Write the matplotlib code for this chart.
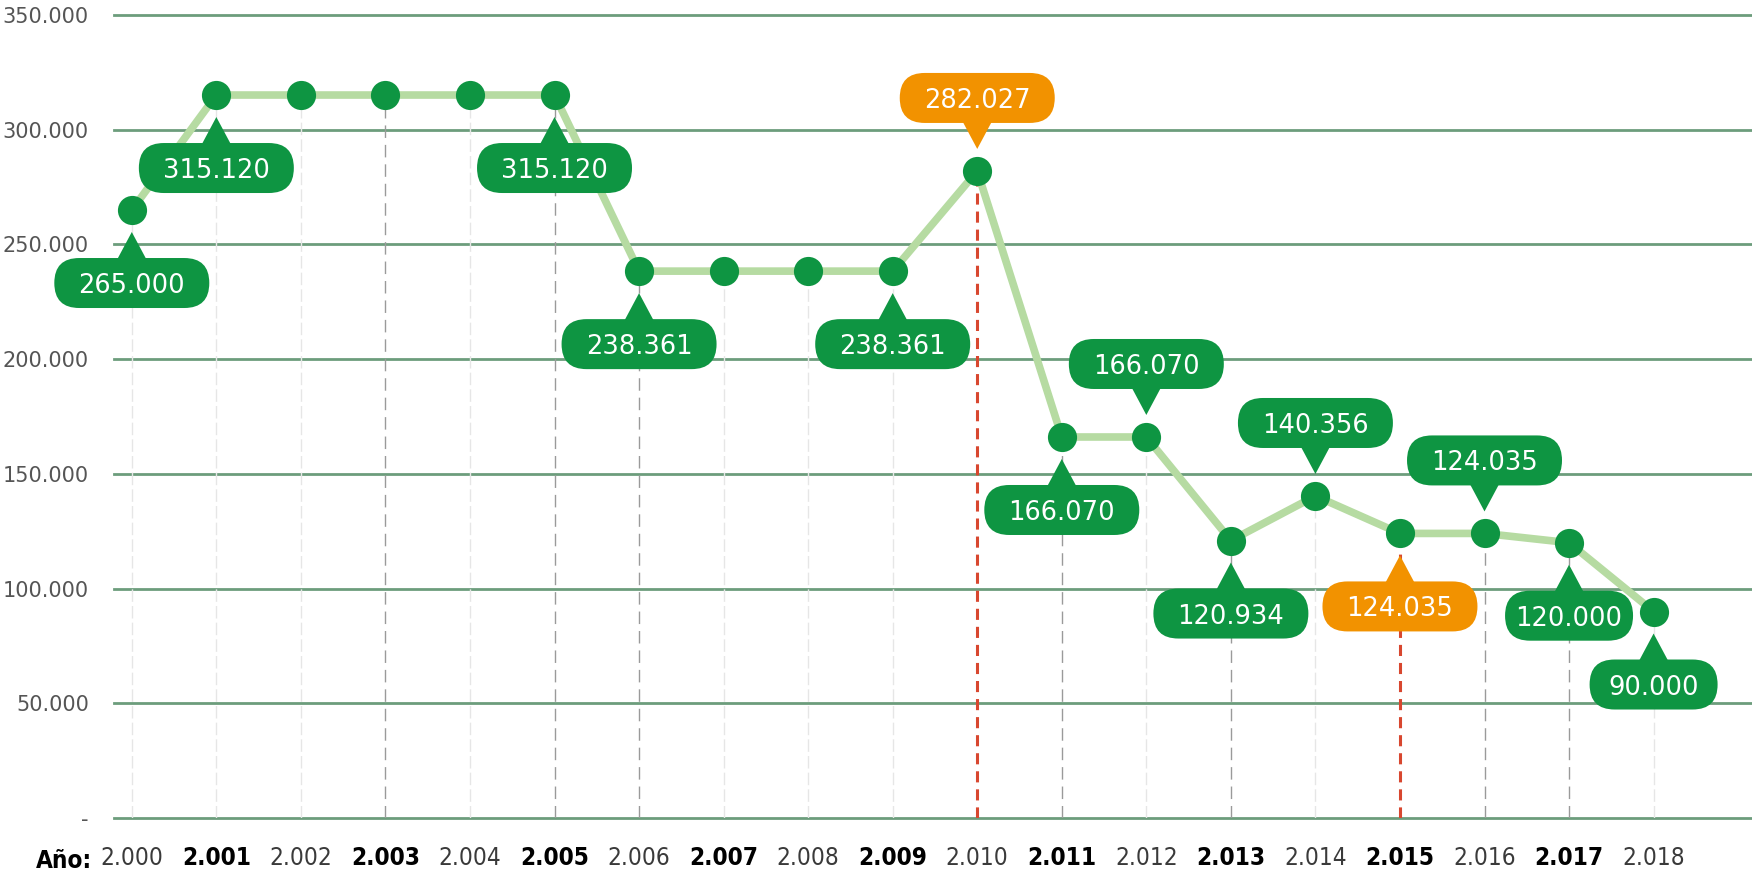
import matplotlib
matplotlib.use("Agg")
import matplotlib.pyplot as plt
import matplotlib.transforms as mtransforms
from matplotlib.patches import FancyBboxPatch, Polygon

plt.rcParams["lines.scale_dashes"] = False

# data
years = [2000, 2001, 2002, 2003, 2004, 2005, 2006, 2007, 2008, 2009,
         2010, 2011, 2012, 2013, 2014, 2015, 2016, 2017, 2018]
values = [265000, 315120, 315120, 315120, 315120, 315120, 238361, 238361, 238361, 238361,
          282027, 166070, 166070, 120934, 140356, 124035, 124035, 120000, 90000]
# where the callout sits for each point (None = no callout)
label_side = ["below", "below", None, None, None, "below", "below", None, None, "below",
              "above", "below", "above", "below", "above", "below", "above", "below", "below"]
highlight_years = [2010, 2015]
dark_guide_years = [2003, 2005, 2006, 2011, 2013, 2016, 2017]
narrow_box_years = [2017, 2018]
y_ticks = [0, 50000, 100000, 150000, 200000, 250000, 300000, 350000]

GREEN = "#0e9542"
ORANGE = "#f29200"
LINE = "#b6dba2"
GRID = "#6c9d7c"
RED = "#d8472f"

W, H = 1752, 872
fig = plt.figure(figsize=(W / 100, H / 100), dpi=100)
left, right, top, bottom = 114, 1752, 15, 818
ax = fig.add_axes([left / W, (H - bottom) / H, (right - left) / W, (bottom - top) / H])

step = (1653.6 - 131.8) / 18
ax.set_xlim(2000 - (131.8 - left) / step, 2018 + (right - 1653.6) / step)
ax.set_ylim(0, 350000)
for s in ax.spines.values():
    s.set_visible(False)

# horizontal grid
for t in y_ticks:
    ax.axhline(t, color=GRID, lw=2, zorder=1, clip_on=False)

ax.set_yticks(y_ticks, ["-" if t == 0 else f"{t:,}".replace(",", ".") for t in y_ticks])
ax.tick_params(axis="y", length=0, pad=18, labelsize=15, labelcolor="#555555")

# vertical guides
for yr, v in zip(years, values):
    if yr in highlight_years:
        ax.plot([yr, yr], [0, v], color=RED, lw=2.2, dashes=(8, 5), zorder=2)
    elif yr in dark_guide_years:
        ax.plot([yr, yr], [0, v], color="#9a9a9a", lw=1, dashes=(9, 5), zorder=2)
    else:
        ax.plot([yr, yr], [0, v], color="#e6e6e6", lw=1, dashes=(9, 3), zorder=2)

# main line + dots
ax.plot(years, values, color=LINE, lw=5.5, zorder=3, solid_capstyle="round")
ax.plot(years, values, "o", ms=21, color=GREEN, mec="none", zorder=4)

# callouts
for yr, v, side in zip(years, values, label_side):
    if side is None:
        continue
    sg = 1 if side == "above" else -1
    col = ORANGE if yr in highlight_years else GREEN
    bw = 128 if yr in narrow_box_years else 155
    bh = 50
    cy = sg * 73
    tr = mtransforms.IdentityTransform() + mtransforms.ScaledTranslation(yr, v, ax.transData)
    box = FancyBboxPatch((-bw / 2, cy - bh / 2), bw, bh,
                         boxstyle=f"round,pad=0,rounding_size={bh / 2}",
                         fc=col, ec="none", transform=tr, zorder=5, clip_on=False)
    ax.add_patch(box)
    tri = Polygon([(-16, sg * 52), (16, sg * 52), (0, sg * 22)], closed=True,
                  fc=col, ec="none", transform=tr, zorder=5, clip_on=False)
    ax.add_patch(tri)
    ax.text(0, cy, f"{v:,}".replace(",", "."), transform=tr, ha="center",
            va="center_baseline", color="white", fontsize=18.5, zorder=6, clip_on=False)

# x labels
ax.set_xticks(years, [f"{y:,}".replace(",", ".") for y in years])
ax.tick_params(axis="x", length=0, pad=20)
for yr, lab in zip(years, ax.get_xticklabels()):
    lab.set_fontsize(17.5)
    lab.set_fontfamily(["DejaVu Sans Condensed", "DejaVu Sans"])
    lab.set_fontstretch("condensed")
    if yr % 2 == 1:
        lab.set_fontweight("bold")
        lab.set_color("black")
    else:
        lab.set_color("#3a3a3a")
fig.text(36 / W, 1 - 858 / H, "Año:", fontsize=17.5, fontweight="bold", va="center_baseline",
         ha="left", family=["DejaVu Sans Condensed", "DejaVu Sans"], stretch="condensed")

fig.savefig("out.png", dpi=100, facecolor="white")
